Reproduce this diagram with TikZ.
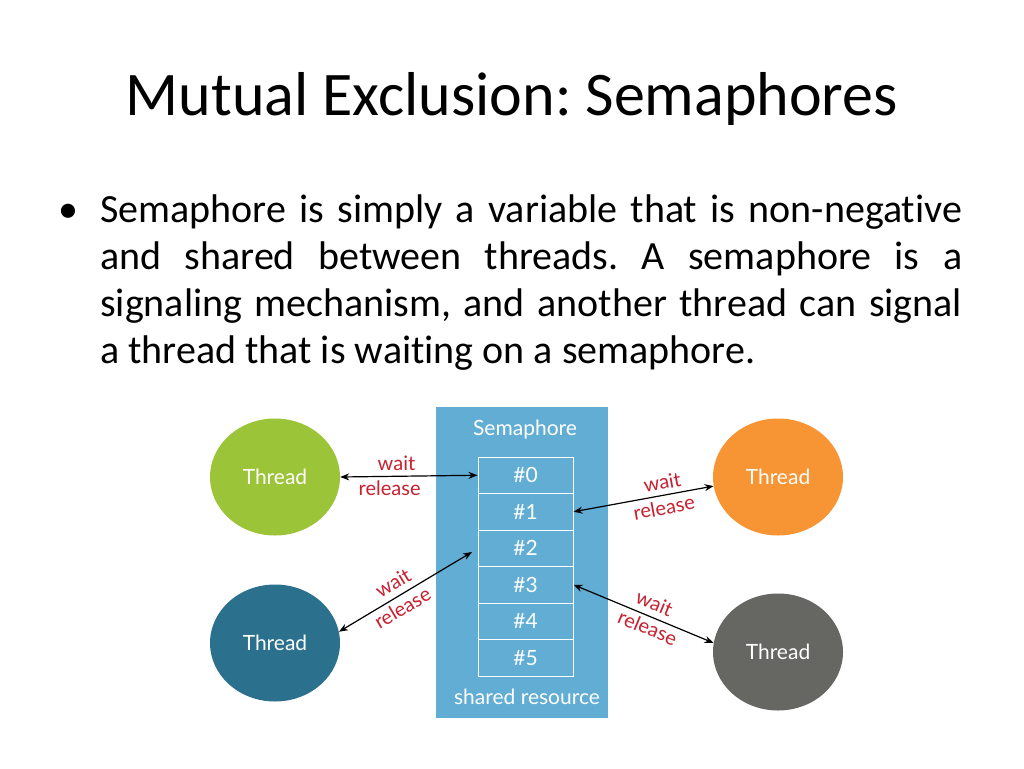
\documentclass[tikz,border=0pt]{standalone}
\usepackage{fontspec}
\setmainfont{Carlito}[Ligatures=NoCommon]
\newfontfamily\diagfont{Lato}
\usetikzlibrary{arrows.meta,shapes.geometric}

\definecolor{semblue}{RGB}{98,173,211}
\definecolor{thgreen}{RGB}{155,196,56}
\definecolor{thteal}{RGB}{43,112,140}
\definecolor{thorange}{RGB}{247,148,51}
\definecolor{thgray}{RGB}{102,102,98}
\definecolor{lblred}{RGB}{200,32,47}

\begin{document}
\frenchspacing
\begin{tikzpicture}[x=1pt, y=-1pt,
    thread/.style={ellipse, minimum width=130pt, minimum height=117pt, inner sep=0pt,
      text=white, font=\diagfont\fontsize{21}{24}\selectfont},
    cell/.style={draw=white, line width=1pt, minimum width=95pt, minimum height=36.5pt,
      inner sep=0pt, text=white, font=\diagfont\fontsize{21}{24}\selectfont},
    lbl/.style={text=lblred, font=\diagfont\fontsize{20}{24}\selectfont, inner sep=1pt},
    link/.style={{Stealth[length=9pt,width=7pt]}-{Stealth[length=9pt,width=7pt]}, line width=1.2pt}]
  \useasboundingbox (0,0) rectangle (1024,768);

  % title and bullet text
  \node[anchor=base, font=\fontsize{62}{74}\selectfont, inner sep=0pt] (title) at (512,115) {Mutual Exclusion: Semaphores};
  \node[anchor=base, font=\fontsize{40}{47}\selectfont, inner sep=0pt] (bullet) at (68,222) {\textbullet};
  \node[anchor=base west, text width=862pt, align=justify, font=\fontsize{40}{47}\selectfont, inner sep=0pt] (body) at (100,222)
    {Semaphore is simply a variable that is non-negative\linebreak
     and shared between threads. A semaphore is a\linebreak
     signaling mechanism, and another thread can signal\linebreak
     a thread that is waiting on a semaphore.};

  % semaphore block
  \node[fill=semblue, minimum width=172pt, minimum height=311pt, inner sep=0pt] (sem) at (522,562.5) {};
  \node[text=white, font=\diagfont\fontsize{21}{24}\selectfont] (semtitle) at (525,430) {Semaphore};
  \node[text=white, font=\diagfont\fontsize{21}{24}\selectfont] (shared) at (527,697) {shared resource};
  \foreach \i in {0,...,5}
    \node[cell] (c\i) at (525.5,475.25+36.5*\i) {\#\i};

  % threads
  \node[thread, fill=thgreen]  (t1) at (275,477) {Thread};
  \node[thread, fill=thteal]   (t2) at (275,643) {Thread};
  \node[thread, fill=thorange] (t3) at (778,477) {Thread};
  \node[thread, fill=thgray]   (t4) at (778,652) {Thread};
  \coordinate (c2in) at (472,552);

  \draw[link] (t1.east) -- node[lbl, above=4pt, pos=.41] (w1) {wait} node[lbl, below=3pt, pos=.36] (r1) {release} (c0.west);
  \draw[link] (t2.10) -- node[lbl, sloped, above=5pt, pos=.46] (w2) {wait} node[lbl, sloped, below=3pt, pos=.43] (r2) {release} (c2in);
  \draw[link] (c1.east) -- node[lbl, sloped, above=4pt, pos=.65] (w3) {wait} node[lbl, sloped, below=3pt, pos=.63] (r3) {release} (t3.188);
  \draw[link] (c3.east) -- node[lbl, sloped, above=5pt, pos=.54] (w4) {wait} node[lbl, sloped, below=2pt, pos=.56] (r4) {release} (t4.172);
\end{tikzpicture}
\end{document}
